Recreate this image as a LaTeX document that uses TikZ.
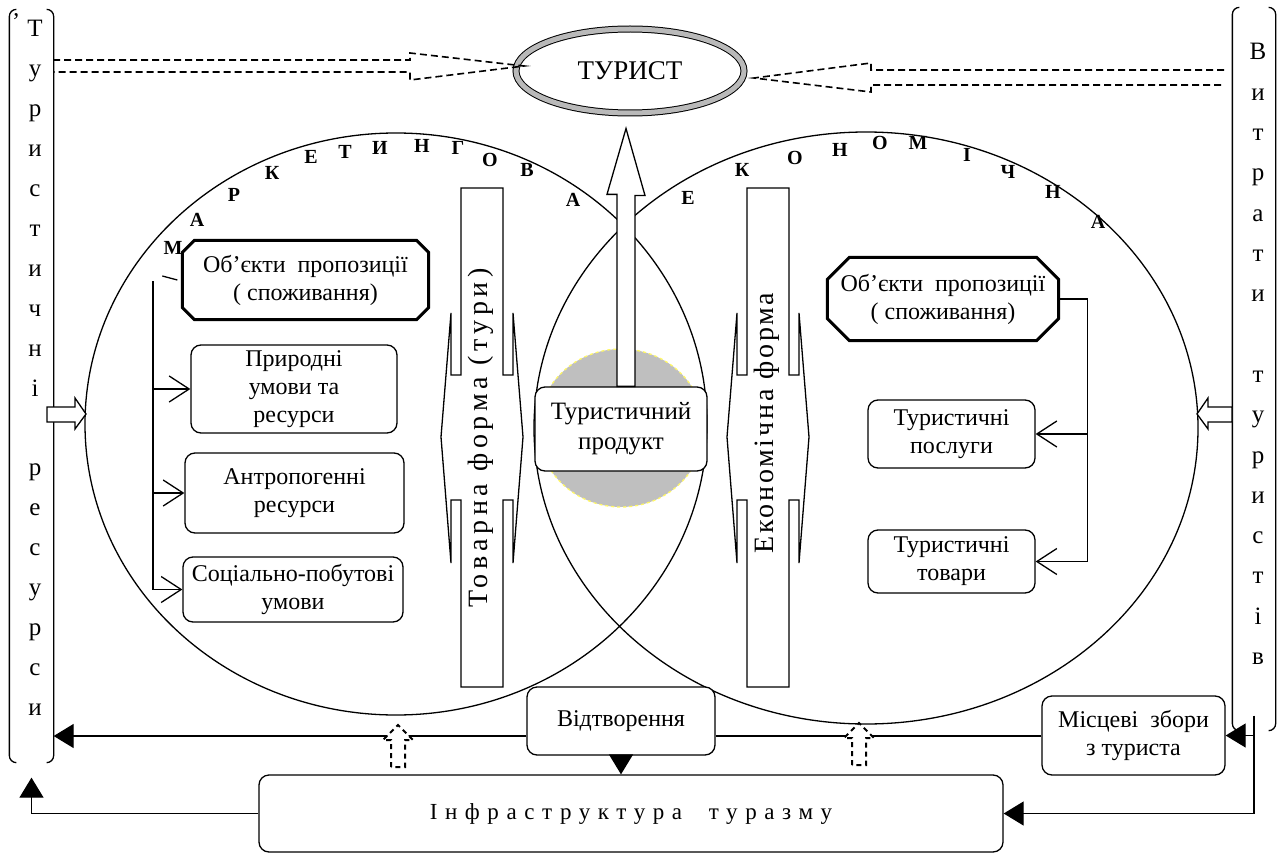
\documentclass[tikz,border=0pt]{standalone}
\usepackage{fontspec}
\setmainfont{Liberation Serif}
\newfontfamily\barfont[LetterSpace=17]{Liberation Serif}
\newfontfamily\ekfont[LetterSpace=10]{Liberation Serif}
\newfontfamily\infrafont[LetterSpace=33]{Liberation Serif}
\usetikzlibrary{shapes.geometric, arrows.meta, positioning, calc}

% octagon frame round a plain node: #1 node, #2 chamfer
\newcommand\octframe[2]{\draw[line width=3pt] ([xshift=#2]#1.north west) -- ([xshift=-#2]#1.north east) -- ([yshift=-#2]#1.north east) -- ([yshift=#2]#1.south east) -- ([xshift=-#2]#1.south east) -- ([xshift=#2]#1.south west) -- ([yshift=#2]#1.south west) -- ([yshift=-#2]#1.north west) -- cycle;}

\begin{document}
\begin{tikzpicture}[x=1pt, y=-1pt, line width=1.3pt,
    box/.style={rectangle, draw, fill=white, rounded corners=10pt, align=center, inner sep=0pt, font=\fontsize{24}{28}\selectfont},
    octbox/.style={rectangle, align=center, inner sep=0pt, font=\fontsize{24}{28}\selectfont},
    circ/.style={ellipse, draw, inner sep=0pt},
    colbox/.style={rectangle, inner sep=0pt, minimum width=43},
    colltr/.style={anchor=base, font=\fontsize{25}{25}\selectfont},
    arcltr/.style={font=\fontsize{20}{20}\selectfont\bfseries},
    blockarr/.style={draw, fill=white, line join=miter},
    dasharr/.style={dash pattern=on 7pt off 4pt, line width=1.6pt},
    openarr/.style={-{Straight Barb[length=20pt, width=26pt]}},
    solidarr/.style={-{Triangle[length=20pt, width=24pt]}}
]
\useasboundingbox (0,0) rectangle (1281,853);

% Two fields
\node[circ, minimum width=622, minimum height=582] (mark) at (396,424) {};
\node[circ, minimum width=664, minimum height=592] (econ) at (866,428) {};
\node[ellipse, fill=gray!50, draw=yellow!60, dashed, minimum width=166, minimum height=158] (core) at (621,428) {};

% Form bars
\foreach \cx in {482,768}
  \draw[blockarr] (\cx-21,188) -- (\cx+21,188) -- (\cx+21,375) -- (\cx+31,375) -- (\cx+31,313) -- (\cx+41,437) -- (\cx+31,563) -- (\cx+31,500) -- (\cx+21,500) -- (\cx+21,687) -- (\cx-21,687) -- (\cx-21,500) -- (\cx-31,500) -- (\cx-31,563) -- (\cx-41,437) -- (\cx-31,313) -- (\cx-31,375) -- (\cx-21,375) -- cycle;
\node[rotate=90, font=\barfont\fontsize{28}{28}\selectfont] (tovf) at (481,438) {Товарна форма (тури)};
\node[rotate=90, font=\ekfont\fontsize{28}{28}\selectfont] (ekf) at (767,423) {Економічна форма};

% Product and tourist
\node[ellipse, draw, double=gray!55, double distance=5pt, line width=1pt, minimum width=228, minimum height=84, inner sep=0pt, font=\fontsize{27}{27}\selectfont] (tur) at (630,71) {ТУРИСТ};
\node[box, minimum width=172, minimum height=84, font=\fontsize{25}{30}\selectfont] (prod) at (621,429) {Туристичний\\продукт};
\draw[blockarr] ([xshift=-4pt]prod.north) -- ++(0,-192) -- ++(-10,0) -- ([xshift=-4pt,yshift=-15pt]tur.south) -- ++(19,67) -- ++(-10,0) -- ([xshift=14pt]prod.north) -- cycle;

% Marketing side
\node[octbox, minimum width=245, minimum height=78] (objL) at (305.5,280) {Об’єкти\ \ пропозиції\\( споживання)};
\octframe{objL}{12pt}
\node[box, minimum width=206, minimum height=88] (prir) at (294,389) {Природні\\умови та\\ресурси};
\node[box, minimum width=219, minimum height=80] (anth) at (294.5,493) {Антропогенні\\ресурси};
\node[box, minimum width=220, minimum height=65] (soc) at (293,589.5) {Соціально-побутові\\умови};

% Economic side
\node[octbox, minimum width=230, minimum height=82] (objR) at (943,299) {Об’єкти\ \ пропозиції\\( споживання)};
\octframe{objR}{22pt}
\node[box, minimum width=167, minimum height=68] (posl) at (951.5,434) {Туристичні\\послуги};
\node[box, minimum width=167, minimum height=63] (tovar) at (951.5,561.5) {Туристичні\\товари};

% Bottom row
\node[box, minimum width=188, minimum height=68] (vidtv) at (621,721) {Відтворення};
\node[box, minimum width=183, minimum height=79] (mist) at (1133.5,735.5) {Місцеві\ \ збори\\з туриста};
\node[box, minimum width=744, minimum height=77, font=\infrafont\fontsize{23}{27}\selectfont] (infra) at (631,813.5) {Інфраструктура\ \ туразму};

% Side columns
\node[colbox, minimum height=752] (colL) at (31.5,386) {};
\node[colbox, minimum width=42, minimum height=722] (colR) at (1254,369) {};
\draw[rounded corners=7pt] ([xshift=7pt]colL.north west) -| (colL.south west) -- ++(7,0);
\draw[rounded corners=7pt] ([xshift=-7pt]colL.north east) -| (colL.south east) -- ++(-7,0);
\draw[rounded corners=7pt] ([xshift=7pt]colR.north west) -| (colR.south west) -- ++(7,0);
\draw[rounded corners=7pt] ([xshift=-7pt]colR.north east) -| (colR.south east) -- ++(-7,0);
\node[font=\fontsize{24}{24}\selectfont] (apos) at (16,22) {’};
\foreach \ch/\k in {Т/0,у/1,р/2,и/3,с/4,т/5,и/6,ч/7,н/8,і/9,р/11,е/12,с/13,у/14,р/15,с/16,и/17}
  \node[colltr] (cl\k) at (35,37+39.9*\k) {\ch};
\foreach \ch/\k in {В/0,и/1,т/2,р/3,а/4,т/5,и/6,т/8,у/9,р/10,и/11,с/12,т/13,і/14,в/15}
  \node[colltr] (cr\k) at (1258,60+40.3*\k) {\ch};

% Arc letters
\foreach \ch/\x/\y [count=\i] in {М/173/248,А/197/220,Р/234/195,К/272/173,Е/311/157,Т/345/152,И/380/148,Н/422/146,Г/458/148,О/490/160,В/527/170,А/573/200}
  \node[arcltr] (am\i) at (\x,\y) {\ch};
\foreach \ch/\x/\y [count=\i] in {Е/688/198,К/742/170,О/795/158,Н/840/150,О/880/143,М/918/143,І/967/155,Ч/1008/172,Н/1053/192,А/1098/222}
  \node[arcltr] (ae\i) at (\x,\y) {\ch};

% Dashed arrows to the tourist
\draw[dasharr] (53,60) -- (410,60) -- (410,53) -- (524,66) -- (410,80) -- (410,72) -- (53,72);
\draw[dasharr] (1224,70) -- (871,70) -- (871,63) -- (754,78) -- (871,92) -- (871,85) -- (1224,85);

% Side block arrows
\draw[blockarr] (47,407) -- (75,407) -- (75,398) -- (86,414) -- (75,429) -- (75,422) -- (47,422) -- cycle;
\draw[blockarr] (1232,407) -- (1208,407) -- (1208,398) -- (1197,414) -- (1208,429) -- (1208,422) -- (1232,422) -- cycle;

% Left branches
\coordinate (busL) at (153,281);
\draw ([xshift=-5pt]objL.west) -- ++(-15,-4);
\draw (busL) -- (busL |- soc.west);
\foreach \b in {prir,anth,soc}
  \draw[openarr] (busL |- \b.west) -- (\b.west);

% Right branches
\coordinate (busR) at ([xshift=29pt]objR.east);
\draw[openarr] (objR.east) -- (busR) |- (tovar.east);
\draw[openarr] (busR |- posl.east) -- (posl.east);

% Bottom links
\coordinate (rowY) at (0,736);
\draw[solidarr] (vidtv.west |- rowY) -- (colL.east |- rowY);
\draw (mist.west |- rowY) -- (vidtv.east |- rowY);
\draw[solidarr] (vidtv.south) -- (vidtv.south |- infra.north);
\coordinate (busB) at ([yshift=15pt]colR.south);
\draw[solidarr] (busB) |- (infra.east);
\draw[solidarr] (busB |- mist.east) -- (mist.east);
\draw[solidarr] (infra.west) -| ([yshift=-15pt]colL.south);

% Small dashed up arrows
\foreach \ux/\uy in {398/725,859/723}
  \draw[fill=white, dash pattern=on 5pt off 4pt, line width=2pt] (\ux-7,\uy+42) -- (\ux-7,\uy+15) -- (\ux-15,\uy+15) -- (\ux,\uy) -- (\ux+15,\uy+15) -- (\ux+7,\uy+15) -- (\ux+7,\uy+42) -- cycle;

\end{tikzpicture}
\end{document}
